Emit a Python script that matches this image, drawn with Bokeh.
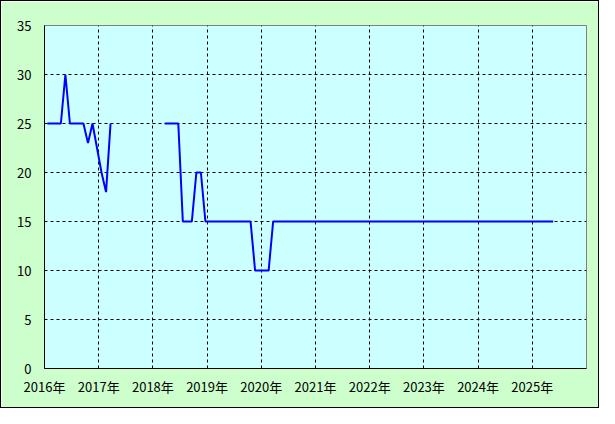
import numpy as np
from bokeh.plotting import figure
from bokeh.models import FixedTicker, ColumnDataSource
from bokeh.embed import file_html
from bokeh.resources import INLINE

# Monthly data, Jan 2016 .. May 2025 (NaN = no data)
start_year = 2016
values = (
    [25, 25, 25, 25, 30, 25, 25, 25, 25, 23, 25, 22.5,      # 2016
     20, 18, 25] + [np.nan] * 9 +                            # 2017
    [np.nan, np.nan, 25, 25, 25, 25, 15, 15, 15, 20, 20, 15] +  # 2018
    [15, 15, 15, 15, 15, 15, 15, 15, 15, 15, 10, 10] +       # 2019
    [10, 10] + [15] * 10 +                                   # 2020
    [15] * 12 * 4 +                                          # 2021-2024
    [15, 15, 15, 15, 15]                                     # 2025
)
day_offset = 19 / 365.0  # each value dated on the 20th of its month
x_years = [start_year + i / 12.0 + day_offset for i in range(len(values))]

year_ticks = list(range(2016, 2026))
year_labels = {y: f"{y}年" for y in year_ticks}
y_ticks = list(range(0, 36, 5))

src = ColumnDataSource(data=dict(x=x_years, y=values))

p = figure(width=599, height=408, output_backend="svg", toolbar_location=None,
           x_range=(2016, 2026), y_range=(0, 35),
           min_border_left=43, min_border_right=14, min_border_top=24, min_border_bottom=41,
           background_fill_color="#CCFFFF", border_fill_color="#CCFFCC")
p.styles = {"border": "1px solid black"}

p.line("x", "y", source=src, line_color="#0000FF", line_width=2)

font = "Noto Sans CJK JP"
p.xaxis.ticker = FixedTicker(ticks=year_ticks)
p.xaxis.major_label_overrides = year_labels
p.yaxis.ticker = FixedTicker(ticks=y_ticks)
for ax in (p.xaxis, p.yaxis):
    ax.major_tick_out = 0
    ax.major_tick_in = 0
    ax.minor_tick_out = 0
    ax.minor_tick_in = 0
    ax.axis_line_color = "black"
    ax.axis_line_width = 1
    ax.major_label_text_font = font
    ax.major_label_text_font_size = "13px"
    ax.major_label_text_color = "black"
p.yaxis.major_label_standoff = 13
p.xaxis.major_label_standoff = 8

p.xgrid.ticker = FixedTicker(ticks=list(range(2017, 2026)))
p.ygrid.ticker = FixedTicker(ticks=list(range(5, 35, 5)))
for g in (p.xgrid, p.ygrid):
    g.grid_line_color = "black"
    g.grid_line_dash = "3 3"
    g.grid_line_width = 1

p.outline_line_color = "#808080"
p.outline_line_width = 1

open("out.html", "w").write(file_html(p, INLINE))
